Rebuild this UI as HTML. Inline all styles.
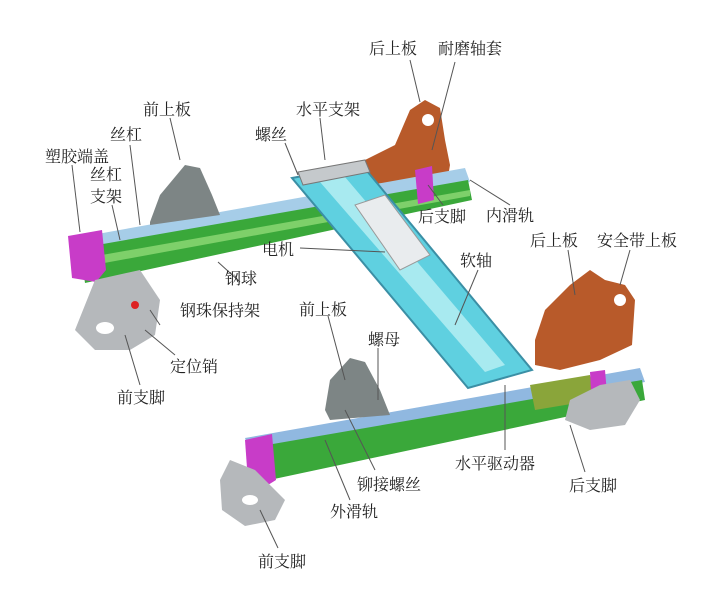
<!DOCTYPE html>
<html><head><meta charset="utf-8"><style>
html,body{margin:0;padding:0;background:#fff;}
svg{display:block;}
text{font-family:"Liberation Serif","Noto Serif CJK SC",serif;font-size:16px;fill:#222;}
</style></head><body>
<svg width="716" height="594" viewBox="0 0 716 594" xmlns="http://www.w3.org/2000/svg">
<rect width="716" height="594" fill="#fff"/>
<!-- rear orange plate top -->
<path d="M365,160 L395,145 L410,110 L425,100 L440,108 L445,140 L450,165 L445,195 L415,205 L380,200 Z" fill="#b85a2a"/>
<circle cx="428" cy="120" r="6" fill="#fff"/>
<!-- upper rail -->
<polygon points="75,238 465,168 470,182 80,252" fill="#a6cde8"/>
<polygon points="80,248 468,180 472,200 85,283" fill="#3aa83a"/>
<polygon points="85,258 470,190 470,196 88,266" fill="#7ed06a"/>
<!-- gray front plate -->
<path d="M150,222 L160,195 L185,165 L200,168 L212,195 L220,215 L150,225 Z" fill="#7d8585"/>
<!-- left cap -->
<polygon points="68,236 102,230 106,270 96,282 72,278" fill="#c83cc8"/>
<!-- rear foot left -->
<polygon points="415,170 432,166 434,200 418,204" fill="#c83cc8"/>
<!-- left foot -->
<path d="M95,280 L140,270 L160,300 L155,335 L130,350 L95,350 L75,330 Z" fill="#b5b8bb"/>
<circle cx="135" cy="305" r="4" fill="#d22"/>
<ellipse cx="105" cy="328" rx="9" ry="6" fill="#fff"/>
<!-- cyan diagonal plate -->
<polygon points="292,178 362,165 532,370 468,388" fill="#5fd0e0" stroke="#3b8fa5" stroke-width="2"/>
<polygon points="320,182 345,177 505,365 485,372" fill="#a8eaf0"/>
<!-- horizontal bracket -->
<polygon points="298,172 365,160 370,172 303,185" fill="#c5c9cc" stroke="#777"/>
<!-- motor -->
<polygon points="355,205 385,195 430,255 400,270" fill="#e9ecee" stroke="#999"/>
<!-- second orange plate -->
<path d="M535,340 L545,310 L570,285 L590,270 L605,280 L625,285 L635,300 L632,345 L600,360 L560,370 L535,365 Z" fill="#b85a2a"/>
<circle cx="620" cy="300" r="6" fill="#fff"/>
<!-- lower rail -->
<polygon points="245,438 640,368 645,382 250,452" fill="#90b8e0"/>
<polygon points="250,448 642,380 645,400 260,482" fill="#3aa83a"/>
<polygon points="530,385 590,375 595,400 535,410" fill="#8aa53a"/>
<polygon points="590,372 605,370 608,405 592,408" fill="#c83cc8"/>
<!-- gray plate lower -->
<path d="M325,410 L330,380 L350,358 L365,362 L380,390 L390,415 L330,420 Z" fill="#7d8585"/>
<!-- lower left cap -->
<polygon points="245,440 272,434 276,480 260,490 248,482" fill="#c83cc8"/>
<!-- lower front foot -->
<path d="M230,460 L255,470 L285,500 L275,520 L245,526 L222,510 L220,480 Z" fill="#b5b8bb"/>
<ellipse cx="250" cy="500" rx="8" ry="5" fill="#fff"/>
<!-- rear foot right -->
<path d="M600,385 L630,380 L640,400 L625,425 L590,430 L565,420 L570,400 Z" fill="#b5b8bb"/>
<!-- leader lines -->
<g stroke="#555" stroke-width="1" fill="none">
<line x1="410" y1="60" x2="420" y2="102"/><line x1="455" y1="62" x2="432" y2="150"/>
<line x1="170" y1="118" x2="180" y2="160"/><line x1="320" y1="118" x2="325" y2="160"/>
<line x1="285" y1="143" x2="298" y2="175"/><line x1="130" y1="145" x2="140" y2="225"/>
<line x1="72" y1="165" x2="80" y2="232"/><line x1="112" y1="205" x2="120" y2="240"/>
<line x1="443" y1="205" x2="428" y2="185"/><line x1="510" y1="205" x2="470" y2="180"/>
<line x1="300" y1="248" x2="385" y2="252"/><line x1="568" y1="250" x2="575" y2="295"/>
<line x1="630" y1="250" x2="620" y2="285"/><line x1="478" y1="270" x2="455" y2="325"/>
<line x1="218" y1="262" x2="240" y2="282"/><line x1="160" y1="325" x2="150" y2="310"/>
<line x1="328" y1="316" x2="345" y2="380"/><line x1="378" y1="348" x2="378" y2="400"/>
<line x1="175" y1="355" x2="145" y2="330"/><line x1="140" y1="385" x2="125" y2="335"/>
<line x1="505" y1="450" x2="505" y2="385"/><line x1="375" y1="470" x2="345" y2="410"/>
<line x1="585" y1="472" x2="570" y2="425"/><line x1="350" y1="500" x2="325" y2="440"/>
<line x1="278" y1="548" x2="260" y2="510"/>
</g>
<text x="369" y="54">后上板</text><text x="438" y="54">耐磨轴套</text>
<text x="143" y="115">前上板</text><text x="296" y="115">水平支架</text>
<text x="255" y="140">螺丝</text><text x="110" y="140">丝杠</text>
<text x="45" y="162">塑胶端盖</text><text x="90" y="180">丝杠</text><text x="90" y="202">支架</text>
<text x="418" y="222">后支脚</text><text x="486" y="221">内滑轨</text>
<text x="262" y="255">电机</text><text x="530" y="246">后上板</text><text x="597" y="246">安全带上板</text>
<text x="460" y="266">软轴</text><text x="225" y="284">钢球</text>
<text x="180" y="316">钢珠保持架</text><text x="299" y="315">前上板</text>
<text x="368" y="345">螺母</text><text x="170" y="372">定位销</text>
<text x="117" y="403">前支脚</text><text x="455" y="469">水平驱动器</text>
<text x="357" y="490">铆接螺丝</text><text x="569" y="491">后支脚</text>
<text x="330" y="517">外滑轨</text><text x="258" y="567">前支脚</text>
</svg>
</body></html>
